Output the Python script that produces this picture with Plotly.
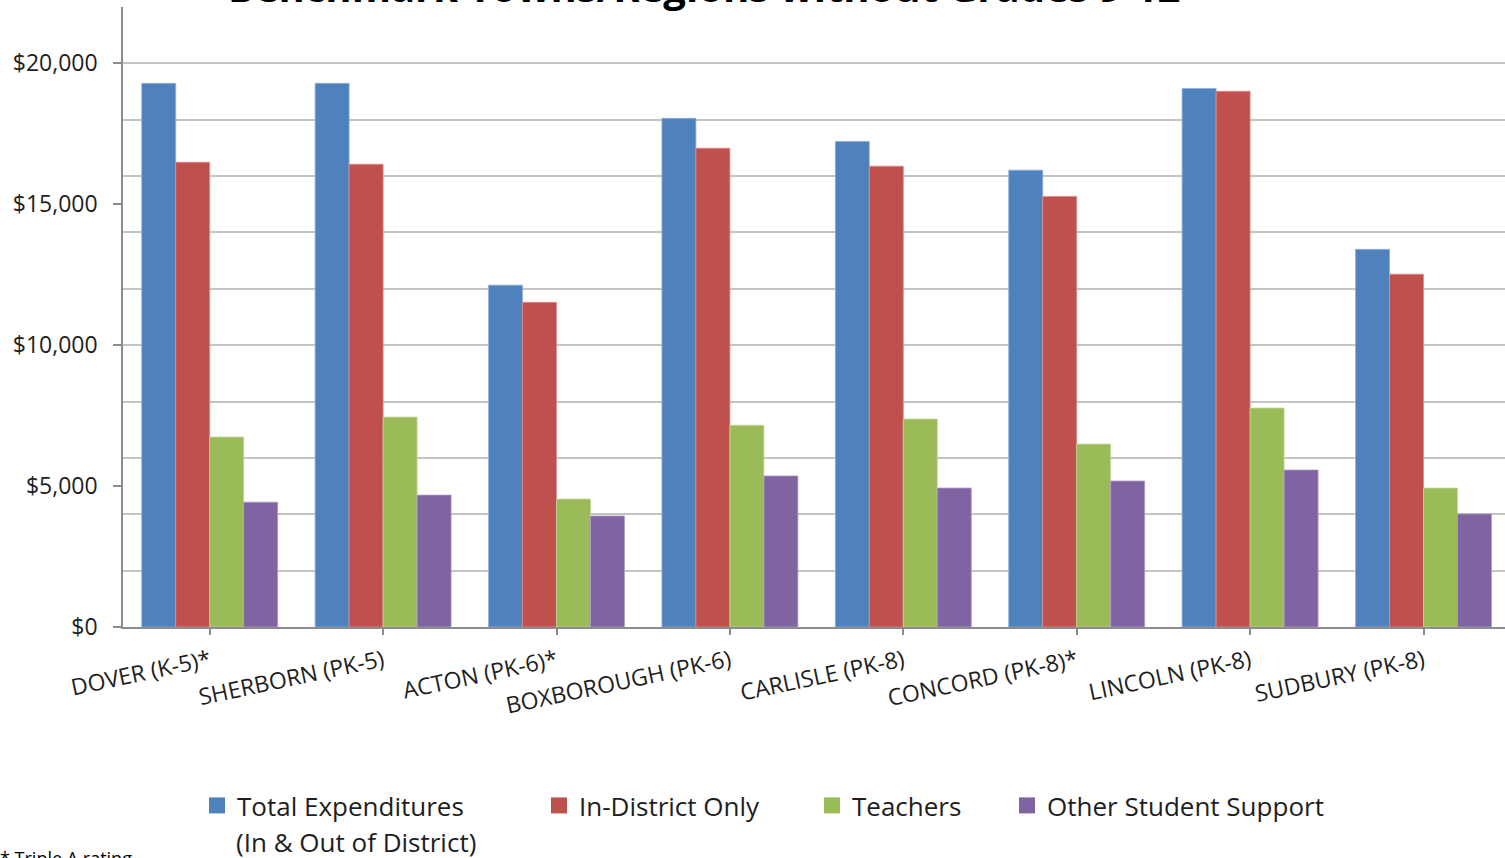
import plotly.graph_objects as go

# Benchmark towns / regions (grade span), * = Triple A rating
categories = [
    "DOVER (K-5)*", "SHERBORN (PK-5)", "ACTON (PK-6)*", "BOXBOROUGH (PK-6)",
    "CARLISLE (PK-8)", "CONCORD (PK-8)*", "LINCOLN (PK-8)", "SUDBURY (PK-8)",
]

# Per-pupil expenditures ($)
total_expenditures = [19290, 19290, 12130, 18050, 17230, 16210, 19110, 13400]
in_district_only = [16490, 16420, 11520, 16990, 16350, 15280, 19010, 12520]
teachers = [6740, 7450, 4540, 7160, 7380, 6490, 7770, 4930]
other_student_support = [4430, 4680, 3940, 5360, 4930, 5180, 5570, 4010]

series_names = [
    "Total Expenditures",
    "In-District Only",
    "Teachers",
    "Other Student Support",
]
first_series_note = "(In & Out of District)"
series_values = [total_expenditures, in_district_only, teachers, other_student_support]
colors = ["#4F81BD", "#C0504D", "#9BBB59", "#8064A2"]
edge_colors = ["#8EAEDB", "#DC8E8C", "#C2D89A", "#AE9BC8"]

y_ticks = [0, 5000, 10000, 15000, 20000]
y_tick_labels = [f"${v:,}" for v in y_ticks]

FONT = "Open Sans"
TEXT = "#1e1e1e"

# Plot-area geometry (pixels)
W, H = 1505, 858
L, R, T, B = 123, 0, 7, 231
PW, PH = W - L - R, H - T - B


def px_x(px):
    return (px - L) / PW


def px_y(py):
    return (H - B - py) / PH


fig = go.Figure()

for name, vals, col, edge in zip(series_names, series_values, colors, edge_colors):
    fig.add_trace(go.Bar(
        x=categories, y=vals, name=name, showlegend=False,
        marker=dict(color=col, line=dict(color=edge, width=0.8)),
    ))

# Legend entries, each in its own legend box so they sit at fixed spots
legend_left_px = [197, 539, 812, 1007]
legend_ids = ["legend", "legend2", "legend3", "legend4"]
for name, col, lid in zip(series_names, colors, legend_ids):
    fig.add_trace(go.Scatter(
        x=[None], y=[None], mode="markers", name=name, legend=lid,
        marker=dict(symbol="square", size=17, color=col),
    ))

legend_common = dict(
    orientation="h", xanchor="left", yanchor="top", y=px_y(782),
    font=dict(family=FONT, size=26, color=TEXT),
    bgcolor="rgba(0,0,0,0)", itemwidth=30, tracegroupgap=0,
)
legend_layout = {}
for lid, px in zip(legend_ids, legend_left_px):
    legend_layout[lid] = dict(x=px_x(px), **legend_common)

fig.update_layout(
    width=W, height=H,
    margin=dict(l=L, r=R, t=T, b=B, pad=0),
    paper_bgcolor="white", plot_bgcolor="white",
    barmode="group", bargap=0.216, bargroupgap=0,
    font=dict(family=FONT, color=TEXT),
    xaxis=dict(
        type="category", range=[-0.5, 7.47],
        showline=True, linecolor="#8C8C8C", linewidth=1.5,
        ticks="outside", ticklen=6, tickcolor="#8C8C8C", tickwidth=1.5,
        tickangle=-12, ticklabelstandoff=4,
        tickfont=dict(family=FONT, size=23, color=TEXT),
        showgrid=False, fixedrange=True, automargin=False,
    ),
    yaxis=dict(
        range=[0, 22000],
        tickmode="array", tickvals=y_ticks, ticktext=y_tick_labels,
        showline=True, linecolor="#8C8C8C", linewidth=1.5,
        ticks="outside", ticklen=8, tickcolor="#8C8C8C", tickwidth=1.5,
        ticklabelstandoff=11,
        tickfont=dict(family=FONT, size=23, color=TEXT),
        showgrid=False, zeroline=False, automargin=False,
        minor=dict(dtick=2000, tick0=0, showgrid=True, gridcolor="#C4C4C4", gridwidth=1.5),
    ),
    **legend_layout,
)

# Second line of the first legend entry
fig.add_annotation(
    text=first_series_note,
    xref="paper", yref="paper", x=px_x(234), y=px_y(842),
    xanchor="left", yanchor="middle", showarrow=False,
    font=dict(family=FONT, size=26, color=TEXT),
)

# Chart title (sits at the very top edge)
fig.add_annotation(
    text="<b>Benchmark Towns/Regions without Grades 9-12</b>",
    xref="paper", yref="paper", x=px_x(704), y=1,
    xanchor="center", yanchor="bottom", yshift=-9, showarrow=False,
    font=dict(family=FONT, size=40, color="#000000"),
)

# Footnote
fig.add_annotation(
    text="* Triple A rating",
    xref="paper", yref="paper", x=px_x(-2), y=px_y(844),
    xanchor="left", yanchor="top", showarrow=False,
    font=dict(family=FONT, size=18, color="#000000"),
)

fig.write_html("out.html")
